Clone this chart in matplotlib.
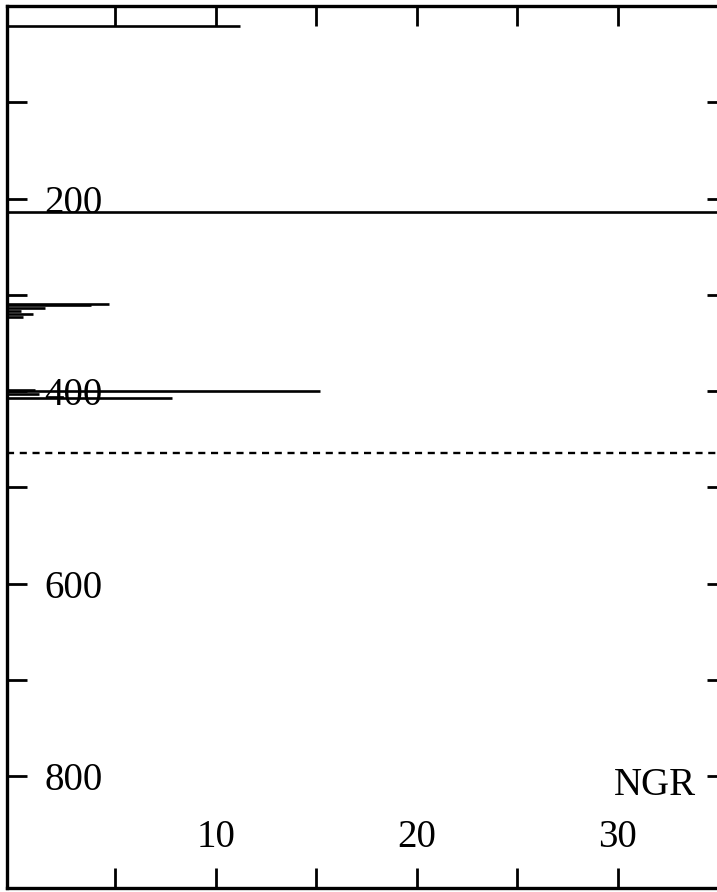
import matplotlib
matplotlib.use("Agg")
import matplotlib.pyplot as plt

# Natural gamma-ray (NGR) log plotted against depth
depth_m = [21, 214, 309, 311, 314, 317, 320, 323, 399, 400, 403, 407]
ngr_cps = [11.2, 36.0, 4.7, 3.8, 1.5, 0.3, 0.9, 0.4, 1.0, 15.2, 1.2, 7.8]

boundary_depth = 464          # dashed marker line
x_ticks = [5, 10, 15, 20, 25, 30]
x_tick_labels = ["", "10", "", "20", "", "30"]
y_ticks = [100, 200, 300, 400, 500, 600, 700, 800]
y_tick_labels = ["", "200", "", "400", "", "600", "", "800"]
x_label = "NGR"

W, H = 717, 892
fig = plt.figure(figsize=(W / 100, H / 100), dpi=100)
plt.rcParams["font.family"] = ["Liberation Serif", "DejaVu Serif"]

# axes frame: left spine at px 7, right spine just past the image edge
left_px, right_px, top_px, bottom_px = 7, 727, 6, 888
ax = fig.add_axes([left_px / W, (H - bottom_px) / H,
                   (right_px - left_px) / W, (bottom_px - top_px) / H])

x_min, x_max = -0.4, 35.45
ax.set_xlim(x_min, x_max)
ax.set_ylim(916, 0)

ax.hlines(depth_m, x_min, ngr_cps, colors="black", linewidth=1.9)
ax.axhline(boundary_depth, color="black", linewidth=1.7,
           linestyle=(0, (3, 2.4)))

for s in ax.spines.values():
    s.set_linewidth(2.4)

ax.set_xticks(x_ticks)
ax.set_xticklabels(x_tick_labels)
ax.set_yticks(y_ticks)
ax.set_yticklabels(y_tick_labels)

ax.tick_params(axis="both", direction="in", length=14.5, width=2.0,
               top=True, right=True, labelsize=28)
ax.tick_params(axis="x", pad=-50)
ax.tick_params(axis="y", pad=-27)
plt.setp(ax.get_yticklabels(), ha="left")

ax.text(33.9, 810, x_label, ha="right", va="center", fontsize=28)

fig.savefig("out.png", dpi=100)
